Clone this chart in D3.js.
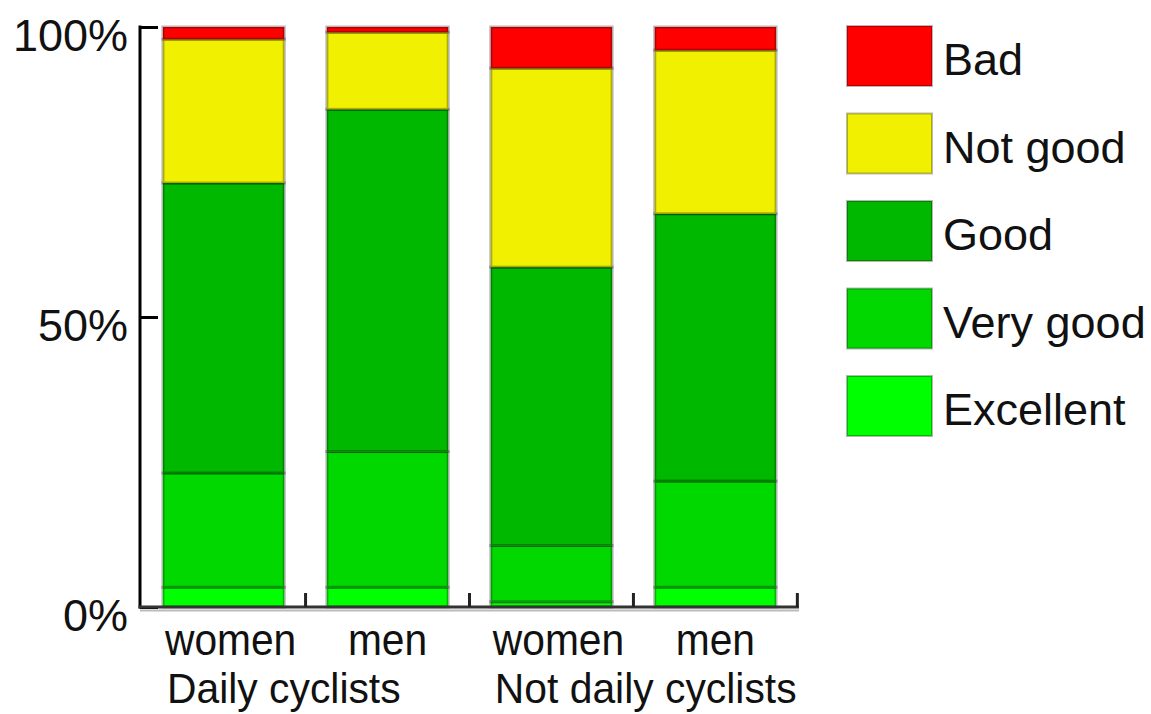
<!DOCTYPE html>
<html><head><meta charset="utf-8">
<script src="https://cdn.jsdelivr.net/npm/d3@7"></script>
<style>
html,body{margin:0;padding:0;background:#fff;}
svg text{font-family:"Liberation Sans",Arial,sans-serif;fill:#111;}
</style></head>
<body>
<svg id="chart" width="1151" height="714"></svg>
<script>
const bars = ["women","men","women","men"];
const groups = ["Daily cyclists","Not daily cyclists"];
const seriesNames = ["Excellent","Very good","Good","Not good","Bad"];
const excellent = [3.4, 3.4, 0.9, 3.4];
const veryGood  = [19.7, 23.4, 9.7, 18.3];
const good      = [50.0, 59.0, 48.0, 46.1];
const notGood   = [24.8, 13.3, 34.3, 28.2];
const bad       = [2.1, 0.9, 7.1, 4.0];
const yTicks = [0, 50, 100];
const colors = ["#00ff00","#00d800","#00b800","#f0f000","#ff0000"];

const rows = bars.map((b,i)=>({id:i, label:b, group:groups[Math.floor(i/2)],
  "Excellent":excellent[i],"Very good":veryGood[i],"Good":good[i],"Not good":notGood[i],"Bad":bad[i]}));

const svg = d3.select("#chart");
const x = d3.scaleBand().domain(rows.map(r=>r.id)).range([140,799]).paddingInner(0.26).paddingOuter(0.14);
const y = d3.scaleLinear().domain([0,100]).range([607,27]);
const color = d3.scaleOrdinal().domain(seriesNames).range(colors);

const stack = d3.stack().keys(seriesNames)(rows);

svg.append("g").selectAll("g").data(stack).join("g")
  .attr("fill", d=>color(d.key))
  .selectAll("rect").data(d=>d).join("rect")
  .attr("x", d=>x(d.data.id))
  .attr("width", x.bandwidth())
  .attr("y", d=>y(d[1]))
  .attr("height", d=>y(d[0])-y(d[1]))
  .attr("stroke","#000").attr("stroke-opacity",0.28).attr("stroke-width",3);

// y axis
const yAxis = svg.append("g").attr("transform","translate(140,0)")
  .call(d3.axisRight(y).tickValues(yTicks).tickSize(18).tickFormat(d=>d+"%"));
yAxis.select(".domain").remove();
yAxis.selectAll(".tick line").attr("stroke","#000").attr("stroke-width",3);
yAxis.selectAll(".tick text").attr("x",-12).attr("text-anchor","end")
  .attr("dy","0.52em").style("font-size","45px").style("font-family","'Liberation Sans',Arial,sans-serif").attr("fill","#111");
svg.append("line").attr("x1",140).attr("x2",140).attr("y1",y(100)-1.5).attr("y2",y(0)+1.5)
  .attr("stroke","#000").attr("stroke-width",3);

// x axis
svg.append("line").attr("x1",140).attr("x2",799).attr("y1",y(0)+3.5).attr("y2",y(0)+3.5)
  .attr("stroke","#bbb").attr("stroke-width",2);
svg.append("line").attr("x1",138.5).attr("x2",799).attr("y1",y(0)).attr("y2",y(0))
  .attr("stroke","#333").attr("stroke-width",3);
const gap = x.step()-x.bandwidth();
svg.append("g").selectAll("line").data(rows).join("line")
  .attr("x1", d=>x(d.id)+x.bandwidth()+gap/2).attr("x2", d=>x(d.id)+x.bandwidth()+gap/2)
  .attr("y1", y(0)).attr("y2", y(0)-14)
  .attr("stroke","#222").attr("stroke-width",3);

// bar labels
svg.append("g").selectAll("text").data(rows).join("text")
  .attr("transform", d=>`translate(${d.label==="women" ? x(d.id)+x.bandwidth()/2+7 : x(d.id)+x.bandwidth()/2},655) scale(0.97,1.04)`)
  .attr("text-anchor","middle")
  .style("font-size","42px").text(d=>d.label);

// group labels
svg.append("g").selectAll("text").data(groups).join("text")
  .attr("transform", (g,i)=>`translate(${x(i*2)+4},703) scale(0.95,1)`)
  .style("font-size","43px").text(g=>g);

// legend
const legendOrder = seriesNames.slice().reverse();
const lg = svg.append("g").selectAll("g").data(legendOrder).join("g")
  .attr("transform",(d,i)=>`translate(847,${26+i*87.5})`);
lg.append("rect").attr("width",85).attr("height",60)
  .attr("fill",d=>color(d)).attr("stroke","#000").attr("stroke-opacity",0.28).attr("stroke-width",2);
lg.append("text").attr("x",96).attr("y",49).style("font-size","45px").text(d=>d);
</script>
</body></html>
